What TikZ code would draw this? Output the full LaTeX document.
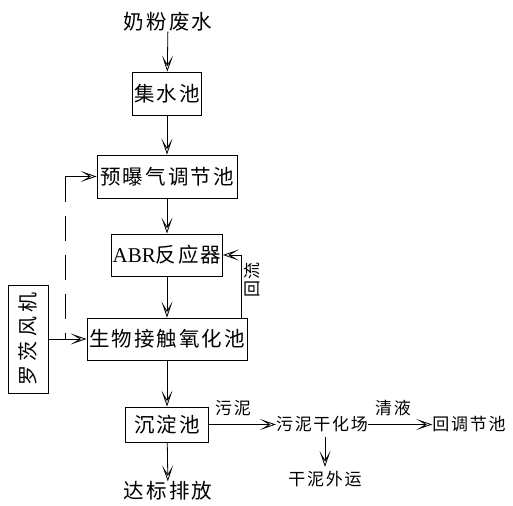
\documentclass[tikz,border=0pt]{standalone}
\usepackage{fontspec}
\newfontfamily\cjk[LetterSpace=10]{Noto Sans CJK SC}
\newfontfamily\cjkwide[LetterSpace=22]{Noto Sans CJK SC}
\newfontfamily\lat{Liberation Serif}
\usetikzlibrary{arrows.meta}
\begin{document}
\begin{tikzpicture}[x=1pt,y=-1pt,
  box/.style={draw,line width=0.8pt,minimum height=43pt,inner sep=0pt,font=\cjk\fontsize{20.5}{20.5}\selectfont},
  txt/.style={inner sep=0pt,font=\cjk\fontsize{20.5}{20.5}\selectfont},
  small/.style={inner sep=0pt,font=\cjk\fontsize{17}{17}\selectfont},
  arr/.style={line width=0.8pt,-{Stealth[open,length=16pt,width=11pt,inset=9pt]}},
  ln/.style={line width=0.8pt}]
\useasboundingbox (0,0) rectangle (513,505);
\node[txt] (src) at (168,22) {奶粉废水};
\node[box,minimum width=69pt] (jsc) at (167,93.5) {集水池};
\node[box,minimum width=140pt] (tjc) at (167,176.5) {预曝气调节池};
\node[box,minimum width=111pt,minimum height=42pt] (abr) at (167,255) {{\lat\fontsize{21}{21}\selectfont ABR}反应器};
\node[box,minimum width=160pt,minimum height=42pt] (swc) at (167,339) {生物接触氧化池};
\node[box,minimum width=83pt,minimum height=35pt] (cdc) at (167,424.5) {沉淀池};
\node[txt] (out) at (168,491) {达标排放};
\node[draw,line width=0.8pt,minimum width=40pt,minimum height=108pt,inner sep=0pt] (fan) at (28,339) {};
\node[rotate=90,inner sep=0pt,font=\cjkwide\fontsize{20}{20}\selectfont] (fantxt) at (fan.center) {罗茨风机};
\node[small] (gh) at (322,424.5) {污泥干化场};
\node[small] (back) at (469,424.5) {回调节池};
\node[small] (dry) at (325,479) {干泥外运};
\node[small] (lbl1) at (233,408) {污泥};
\node[small] (lbl2) at (393,408) {清液};
\coordinate (j) at (65,339);
\coordinate (r) at (241,318);
\draw[arr] (src) -- (jsc);
\draw[arr] (jsc) -- (tjc);
\draw[arr] (tjc) -- (abr);
\draw[arr] (abr) -- (swc);
\draw[arr] (swc) -- (cdc);
\draw[arr] (cdc) -- (out);
\draw[arr] (fan) -- (swc);
\draw[ln,dash pattern=on 25pt off 14pt] (j |- tjc.west) -- (j);
\draw[arr] (j |- tjc.west) -- (tjc.west);
\draw[arr] (r) |- (abr.east);
\node[rotate=90,small,anchor=center] (hl) at (252,280) {回流};
\draw[arr] (cdc) -- (gh);
\draw[arr] (gh) -- (back);
\draw[arr,shorten <=4pt,shorten >=4pt] (gh.south -| dry.north) -- (dry.north);
\end{tikzpicture}
\end{document}
